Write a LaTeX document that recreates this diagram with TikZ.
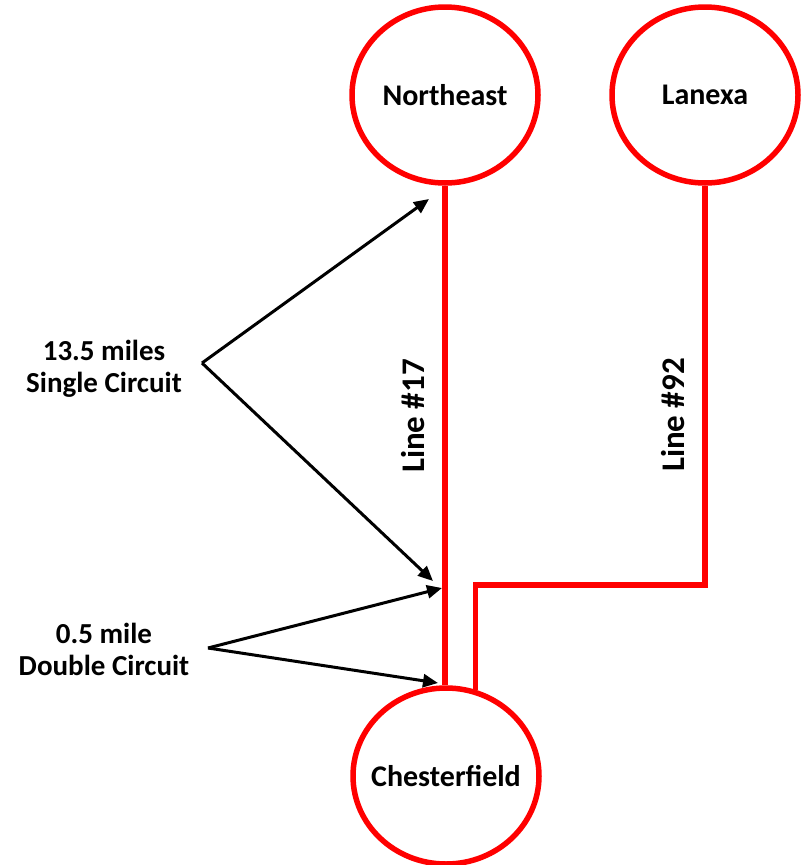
\documentclass[tikz,border=0pt]{standalone}
\usepackage{fontspec}
\setmainfont{Carlito}
\usetikzlibrary{arrows.meta,shapes.geometric,positioning}
\tikzset{stn/.style={ellipse,draw=red,line width=5.5pt,minimum width=186pt,minimum height=176pt,inner xsep=-15pt,inner ysep=0pt,font=\fontsize{30}{34}\selectfont\bfseries},
  feeder/.style={draw=red,line width=5.5pt},
  lbl/.style={align=center,font=\fontsize{29}{32}\selectfont\bfseries},
  linelbl/.style={rotate=90,font=\fontsize{33}{36}\selectfont\bfseries},
  arr/.style={-{Triangle[length=15pt,width=13pt]},line width=3pt}}
\begin{document}
\begin{tikzpicture}[x=1pt,y=-1pt]
\useasboundingbox (0,0) rectangle (808,865);
% substations
\node[stn] (ne) at (445,95) {Northeast};
\node[stn] (lx) at (705,95) {Lanexa};
\node[stn] (ch) at (446,776) {Chesterfield};
% lines
\coordinate (jog) at (705,585);
\draw[feeder] (ne) -- (ne |- ch.north);
\draw[feeder] (ch.71) |- (jog) -- (lx.south);
\node[linelbl] (l17) at (413,416) {Line \#17};
\node[linelbl] (l92) at (673,415) {Line \#92};
% notes
\node[lbl] (sc) at (104,369) {13.5 miles\\Single Circuit};
\node[lbl] (dc) at (104,649) {0.5 mile\\Double Circuit};
\coordinate (sctip) at (202,363);
\coordinate (dctip) at (208,648);
\coordinate (a1) at (429,199);
\coordinate (a2) at (433,581);
\coordinate (a3) at (442,588);
\coordinate (a4) at (438,683);
\draw[arr] (sctip) -- (a1);
\draw[arr] (sctip) -- (a2);
\draw[arr] (dctip) -- (a3);
\draw[arr] (dctip) -- (a4);
\end{tikzpicture}
\end{document}
